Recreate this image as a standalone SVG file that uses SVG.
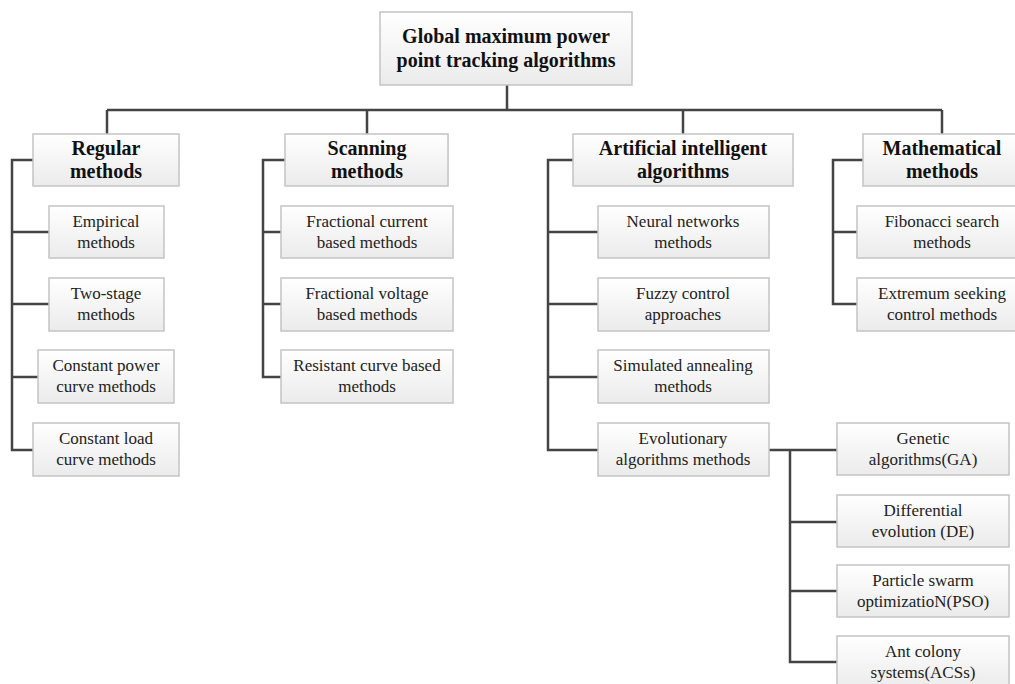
<svg xmlns="http://www.w3.org/2000/svg" width="1015" height="684" viewBox="0 0 1015 684">
<defs>
<linearGradient id="g" x1="0" y1="0" x2="0" y2="1">
<stop offset="0" stop-color="#ffffff"/>
<stop offset="1" stop-color="#ebebeb"/>
</linearGradient>
</defs>
<style>
.b{fill:url(#g);stroke:#c4c4c4;stroke-width:1.5}
.h{font-family:"Liberation Serif","Times New Roman",serif;font-weight:bold;font-size:20px;fill:#111;text-anchor:middle}
.t{font-family:"Liberation Serif","Times New Roman",serif;font-size:17px;fill:#222;text-anchor:middle}
.c{fill:none;stroke:#444;stroke-width:2.5}
</style>
<rect width="1015" height="684" fill="#fff"/>
<g id="connectors" class="c">
<path d="M507 85V110M107 110H942M107 110V134M367 110V134M683 110V134M942 110V134"/>
<path d="M33 160H12V450H33M12 232H49M12 304H49M12 377H38"/>
<path d="M285 160H263V377H281M263 232H281M263 304H281"/>
<path d="M573 160H548V450H598M548 232H598M548 304H598M548 377H598"/>
<path d="M863 160H833V304H857M833 232H857"/>
<path d="M769 450H837M790 450V662H837M790 522H837M790 591H837"/>
</g>
<g id="root"><rect class="b" x="380" y="12" width="252" height="73"/><text class="h" x="506" y="43">Global maximum power</text><text class="h" x="506" y="67">point tracking algorithms</text></g>
<g id="regular"><rect class="b" x="33" y="134" width="146" height="52"/><text class="h" x="106" y="155">Regular</text><text class="h" x="106" y="178">methods</text></g>
<g id="empirical"><rect class="b" x="49" y="206" width="115" height="52"/><text class="t" x="106" y="227">Empirical</text><text class="t" x="106" y="248">methods</text></g>
<g id="twostage"><rect class="b" x="49" y="278" width="115" height="53"/><text class="t" x="106" y="299">Two-stage</text><text class="t" x="106" y="320">methods</text></g>
<g id="constpower"><rect class="b" x="38" y="350" width="136" height="53"/><text class="t" x="106" y="371">Constant power</text><text class="t" x="106" y="392">curve methods</text></g>
<g id="constload"><rect class="b" x="33" y="423" width="146" height="53"/><text class="t" x="106" y="444">Constant load</text><text class="t" x="106" y="465">curve methods</text></g>
<g id="scanning"><rect class="b" x="285" y="134" width="163" height="52"/><text class="h" x="367" y="155">Scanning</text><text class="h" x="367" y="178">methods</text></g>
<g id="fraccurrent"><rect class="b" x="281" y="206" width="172" height="52"/><text class="t" x="367" y="227">Fractional current</text><text class="t" x="367" y="248">based methods</text></g>
<g id="fracvoltage"><rect class="b" x="281" y="278" width="172" height="53"/><text class="t" x="367" y="299">Fractional voltage</text><text class="t" x="367" y="320">based methods</text></g>
<g id="resistant"><rect class="b" x="281" y="350" width="172" height="53"/><text class="t" x="367" y="371">Resistant curve based</text><text class="t" x="367" y="392">methods</text></g>
<g id="ai"><rect class="b" x="573" y="134" width="220" height="52"/><text class="h" x="683" y="155">Artificial intelligent</text><text class="h" x="683" y="178">algorithms</text></g>
<g id="neural"><rect class="b" x="598" y="206" width="171" height="52"/><text class="t" x="683" y="227">Neural networks</text><text class="t" x="683" y="248">methods</text></g>
<g id="fuzzy"><rect class="b" x="598" y="278" width="171" height="53"/><text class="t" x="683" y="299">Fuzzy control</text><text class="t" x="683" y="320">approaches</text></g>
<g id="annealing"><rect class="b" x="598" y="350" width="171" height="53"/><text class="t" x="683" y="371">Simulated annealing</text><text class="t" x="683" y="392">methods</text></g>
<g id="evolutionary"><rect class="b" x="598" y="423" width="171" height="53"/><text class="t" x="683" y="444">Evolutionary</text><text class="t" x="683" y="465">algorithms methods</text></g>
<g id="math"><rect class="b" x="863" y="134" width="158" height="52"/><text class="h" x="942" y="155">Mathematical</text><text class="h" x="942" y="178">methods</text></g>
<g id="fibonacci"><rect class="b" x="857" y="206" width="170" height="52"/><text class="t" x="942" y="227">Fibonacci search</text><text class="t" x="942" y="248">methods</text></g>
<g id="extremum"><rect class="b" x="857" y="278" width="170" height="53"/><text class="t" x="942" y="299">Extremum seeking</text><text class="t" x="942" y="320">control methods</text></g>
<g id="ga"><rect class="b" x="837" y="423" width="172" height="52"/><text class="t" x="923" y="444">Genetic</text><text class="t" x="923" y="465">algorithms(GA)</text></g>
<g id="de"><rect class="b" x="837" y="495" width="172" height="52"/><text class="t" x="923" y="516">Differential</text><text class="t" x="923" y="537">evolution (DE)</text></g>
<g id="pso"><rect class="b" x="837" y="565" width="172" height="52"/><text class="t" x="923" y="586">Particle swarm</text><text class="t" x="923" y="607">optimizatioN(PSO)</text></g>
<g id="acs"><rect class="b" x="837" y="636" width="172" height="54"/><text class="t" x="923" y="657">Ant colony</text><text class="t" x="923" y="678">systems(ACSs)</text></g>
</svg>
